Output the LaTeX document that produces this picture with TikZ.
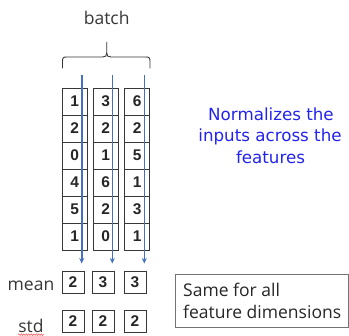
\documentclass[tikz,border=0pt]{standalone}
\usepackage{fontspec}
\usetikzlibrary{arrows.meta,decorations.pathmorphing}
\newfontfamily\labelfont{Open Sans}
\newfontfamily\notefont{DejaVu Sans}
\newfontfamily\digitfont{Liberation Sans}
\definecolor{noteblue}{RGB}{35,35,240}
\definecolor{flowblue}{RGB}{70,112,192}
\definecolor{inkgray}{RGB}{55,55,55}
\tikzset{
  cellbox/.style={draw=inkgray, line width=0.9pt, minimum width=25pt, minimum height=27pt,
    inner sep=0pt, font=\digitfont\bfseries\fontsize{15.5}{17}\selectfont, text=black!85},
  statbox/.style={cellbox, minimum width=22pt, minimum height=22pt},
  rowlabel/.style={anchor=base, inner sep=0pt, font=\labelfont\fontsize{17.5}{20}\selectfont, text=inkgray},
  noteline/.style={anchor=base, inner sep=0pt, font=\notefont\fontsize{16.7}{20}\selectfont, text=noteblue},
  boxline/.style={anchor=base west, inner sep=0pt, font=\labelfont\fontsize{17.5}{20}\selectfont, text=black!85},
  flow/.style={draw=flowblue, line width=1.6pt, -{Stealth[length=5.5pt,width=5pt]}},
  bracepath/.style={draw=inkgray, line width=0.9pt}
}
\begin{document}
\begin{tikzpicture}[x=1pt,y=-1pt]
\useasboundingbox (0,0) rectangle (349,336);
\fill[white] (0,0) rectangle (349,336);

% title and brace over the batch
\node[rowlabel] (batch) at (106.7,25) {batch};
\draw[bracepath] (62.5,68.5) -- (62.5,61.5) .. controls (62.5,58) and (63,57) .. (66.5,57)
  -- (102.5,57) .. controls (105.5,57) and (106.7,56) .. (106.7,53) -- (106.7,42);
\draw[bracepath] (106.7,53) .. controls (106.7,56) and (108,57) .. (111,57)
  -- (146,57) .. controls (149.5,57) and (150,58) .. (150,61.5) -- (150,68.5);

% batch columns
\foreach \col/\xc/\vals in {1/74.7/{1,2,0,4,5,1}, 2/105.8/{3,2,1,6,2,0}, 3/137.2/{6,2,5,1,3,1}} {
  \foreach \v [count=\r] in \vals {
    \node[cellbox] (c\col-\r) at (\xc,{74.5+27*\r}) {\v};
  }
}

% flow arrows down each column
\coordinate (top1) at (81.7,75);   \coordinate (bot1) at (81.7,263.5);
\coordinate (top2) at (112.3,75);  \coordinate (bot2) at (112.3,263.5);
\coordinate (top3) at (144.3,75);  \coordinate (bot3) at (144.3,263.5);
\foreach \i in {1,2,3} { \draw[flow] (top\i) -- (bot\i); }

% statistics rows
\node[rowlabel] (meanlbl) at (31,290.5) {mean};
\node[rowlabel] (stdlbl) at (31,332.5) {std};
\draw[red!65, line width=0.6pt, decorate, decoration={zigzag, amplitude=0.8pt, segment length=2.5pt}]
  (stdlbl.south west) ++(0,1.8) -- ++(26,0);
\node[statbox] (m1) at (73,282.5) {2};
\node[statbox] (m2) at (103,282.5) {3};
\node[statbox] (m3) at (135,282.5) {3};
\node[statbox] (s1) at (73,321) {2};
\node[statbox] (s2) at (103,321) {2};
\node[statbox] (s3) at (135,321) {2};

% explanatory note
\node[noteline] (n1) at (271,120.7) {Normalizes the};
\node[noteline] (n2) at (270,141.7) {inputs across the};
\node[noteline] (n3) at (270.5,163.3) {features};

% boxed remark
\draw[draw=black!55, line width=0.9pt] (175,274.5) rectangle (348.5,327);
\node[boxline] (r1) at (183,296.7) {Same for all};
\node[boxline] (r2) at (183,318.3) {feature dimensions};
\end{tikzpicture}
\end{document}
